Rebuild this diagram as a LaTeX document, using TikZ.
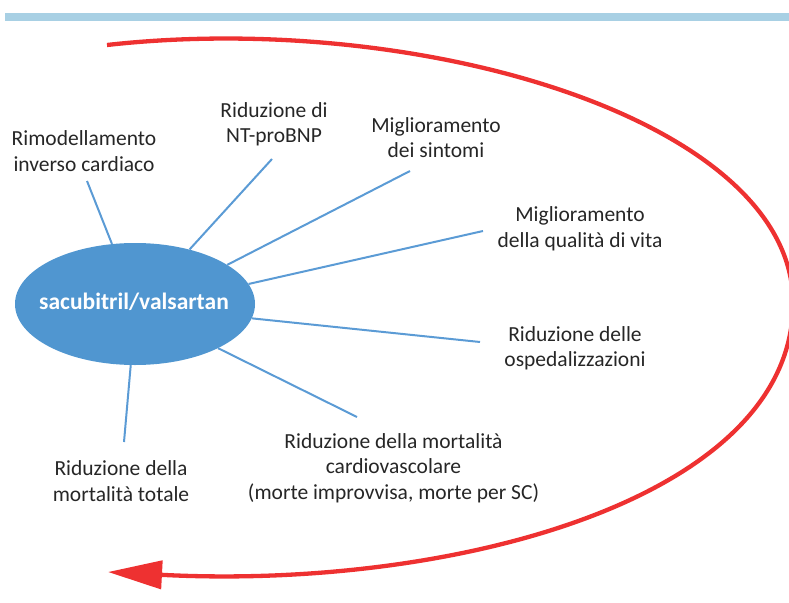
\documentclass[tikz,border=0pt]{standalone}
\usepackage{fontspec}
\setmainfont{Carlito}
\usetikzlibrary{shapes.geometric,arrows.meta}
\definecolor{barblue}{HTML}{A8D0E4}
\definecolor{elblue}{HTML}{5096D0}
\definecolor{lineblue}{HTML}{5B9BD5}
\definecolor{arcred}{HTML}{EE3131}
\definecolor{txt}{HTML}{262626}
\begin{document}
\begin{tikzpicture}[x=1pt,y=-1pt,
  lbl/.style={font=\fontsize{21.5}{25.5}\selectfont, text=txt, align=center, inner sep=0pt},
  spoke/.style={draw=lineblue, line width=2pt},
  bigarc/.style={draw=arcred, line width=4.3pt, -{Triangle[length=54pt,width=28pt]}},
]
\useasboundingbox (0,0) rectangle (789,602);
\fill[barblue] (5,13) rectangle (789,21);

\node[ellipse, fill=elblue, minimum width=240pt, minimum height=122pt, inner sep=0pt] (e) at (135,304) {};
\node[font=\bfseries\fontsize{23.5}{26}\selectfont, text=white, inner sep=0pt] (et) at (134,302) {sacubitril/valsartan};

\node[lbl] (t1) at (84,151) {Rimodellamento\\inverso cardiaco};
\node[lbl] (t2) at (274,124.5) {Riduzione di\\NT-proBNP};
\node[lbl] (t3) at (436,137.5) {Miglioramento\\dei sintomi};
\node[lbl] (t4) at (580,229) {Miglioramento\\della qualità di vita};
\node[lbl] (t5) at (575,348.5) {Riduzione delle\\ospedalizzazioni};
\node[lbl] (t6) at (393.5,468) {Riduzione della mortalità\\cardiovascolare\\(morte improvvisa, morte per SC)};
\node[lbl] (t7) at (121,481) {Riduzione della\\mortalità totale};

\coordinate (c1) at (87,181);
\coordinate (c2) at (272,159);
\coordinate (c3) at (410,171);
\coordinate (c4) at (483,231);
\coordinate (c5) at (480,342);
\coordinate (c6) at (357,417);
\coordinate (c7) at (124,442);

\draw[spoke] (e.111.8) -- (c1);
\draw[spoke] (e.45.5) -- (c2);
\draw[spoke] (e.23.7) -- (c3);
\draw[spoke] (e.10.3) -- (c4);
\draw[spoke] (e.-7.4) -- (c5);
\draw[spoke] (e.-28.2) -- (c6);
\draw[spoke] (e.-94.7) -- (c7);

\coordinate (a0) at (107,45);
\coordinate (a1) at (793,303);
\coordinate (a2) at (108,572);
\draw[bigarc] (a0) .. controls (420,10) and (793,120) .. (a1)
  .. controls (793,500) and (450,590) .. (a2);
\end{tikzpicture}
\end{document}
